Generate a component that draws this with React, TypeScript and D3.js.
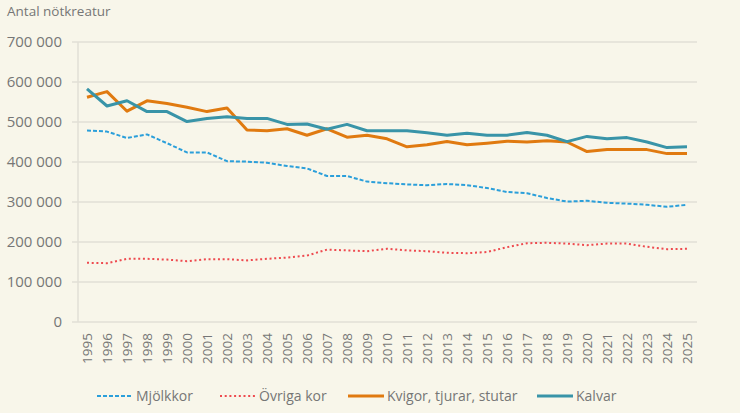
import * as d3 from 'd3';
import { useEffect, useRef } from 'react';

const years = d3.range(1995, 2026).map(String);

const mjolkkor = [
  479000, 476000, 460000, 469000, 447000, 424000, 424000, 402000, 401000, 398000,
  390000, 384000, 365000, 365000, 351000, 347000, 344000, 342000, 345000, 342000,
  335000, 325000, 322000, 310000, 301000, 303000, 298000, 296000, 293000, 288000,
  293000,
];

const ovrigaKor = [
  148000, 147000, 158000, 158000, 156000, 152000, 157000, 157000, 154000, 158000,
  161000, 166000, 181000, 179000, 177000, 183000, 179000, 177000, 173000, 172000,
  175000, 187000, 197000, 198000, 196000, 192000, 196000, 196000, 188000, 182000,
  183000,
];

const kvigor = [
  562000, 576000, 527000, 553000, 546000, 537000, 526000, 535000, 480000, 478000,
  483000, 467000, 483000, 462000, 467000, 458000, 438000, 443000, 451000, 443000,
  447000, 452000, 450000, 453000, 450000, 426000, 431000, 431000, 431000, 421000,
  421000,
];

const kalvar = [
  583000, 540000, 553000, 526000, 526000, 501000, 509000, 513000, 509000, 509000,
  494000, 495000, 482000, 494000, 478000, 478000, 478000, 473000, 467000, 472000,
  467000, 467000, 474000, 467000, 451000, 464000, 458000, 461000, 450000, 436000,
  438000,
];

const yTicks = [0, 100000, 200000, 300000, 400000, 500000, 600000, 700000];

const series = [
  { name: 'Mjölkkor', values: mjolkkor, color: '#2b9fda', width: 2, dash: '4,2' },
  { name: 'Övriga kor', values: ovrigaKor, color: '#ee4a4f', width: 2, dash: '2,2.7' },
  { name: 'Kvigor, tjurar, stutar', values: kvigor, color: '#e07a10', width: 3, dash: null },
  { name: 'Kalvar', values: kalvar, color: '#3994a8', width: 3, dash: null },
];

const legendX = [97, 220, 348, 537];

const W = 740;
const H = 413;
const FONT = '"Open Sans", sans-serif';
const TEXT = '#767676';

const sv = d3.formatLocale({
  decimal: ',',
  thousands: ' ',
  grouping: [3],
  currency: ['', ' kr'],
});
const fmt = sv.format(',d');

export default function App() {
  const svgRef = useRef<SVGSVGElement>(null);

  useEffect(() => {
    if (!svgRef.current) return;
    const svg = d3.select(svgRef.current);
    svg.selectAll('*').remove();

    const x = d3.scalePoint<string>().domain(years).range([77, 697]).padding(0.5);
    const y = d3.scaleLinear().domain([0, 700000]).range([322, 42]);

    svg.append('rect').attr('width', W).attr('height', H).attr('fill', '#f8f6ea');

    // title
    svg
      .append('text')
      .attr('x', 7)
      .attr('y', 16)
      .attr('font-family', FONT)
      .attr('font-size', 13.5)
      .attr('fill', TEXT)
      .text('Antal nötkreatur');

    // grid + y labels
    svg
      .append('g')
      .selectAll('line')
      .data(yTicks)
      .join('line')
      .attr('x1', 72)
      .attr('x2', 697)
      .attr('y1', (d) => y(d))
      .attr('y2', (d) => y(d))
      .attr('stroke', '#e2dfd6')
      .attr('stroke-width', 1.5);

    svg
      .append('line')
      .attr('x1', 78)
      .attr('x2', 78)
      .attr('y1', y(700000))
      .attr('y2', y(0))
      .attr('stroke', '#e2dfd6')
      .attr('stroke-width', 1.5);

    svg
      .append('g')
      .selectAll('text')
      .data(yTicks)
      .join('text')
      .attr('x', 62)
      .attr('y', (d) => y(d))
      .attr('dy', '0.35em')
      .attr('text-anchor', 'end')
      .attr('font-family', FONT)
      .attr('font-size', 15)
      .attr('fill', TEXT)
      .text((d) => fmt(d));

    // x labels
    svg
      .append('g')
      .selectAll('text')
      .data(years)
      .join('text')
      .attr('transform', (d) => `translate(${x(d)},333) rotate(-90)`)
      .attr('dy', '0.35em')
      .attr('text-anchor', 'end')
      .attr('font-family', FONT)
      .attr('font-size', 13.5)
      .attr('fill', TEXT)
      .text((d) => d);

    // lines
    const line = d3
      .line<number>()
      .x((_, i) => x(years[i]) ?? 0)
      .y((d) => y(d));

    series.forEach((s) => {
      svg
        .append('path')
        .datum(s.values)
        .attr('d', line)
        .attr('fill', 'none')
        .attr('stroke', s.color)
        .attr('stroke-width', s.width)
        .attr('stroke-linejoin', 'round')
        .attr('stroke-dasharray', s.dash);
    });

    // legend
    const lg = svg.append('g');
    series.forEach((s, i) => {
      const lx = legendX[i];
      lg.append('line')
        .attr('x1', lx)
        .attr('x2', lx + 36)
        .attr('y1', 396)
        .attr('y2', 396)
        .attr('stroke', s.color)
        .attr('stroke-width', s.width)
        .attr('stroke-dasharray', s.dash);
      lg.append('text')
        .attr('x', lx + 39)
        .attr('y', 396)
        .attr('dy', '0.35em')
        .attr('font-family', FONT)
        .attr('font-size', 14)
        .attr('fill', TEXT)
        .text(s.name);
    });
  }, []);

  return (
    <div style={{ position: 'fixed', left: 0, top: 0 }}>
      <svg ref={svgRef} width={W} height={H} style={{ display: 'block' }} />
    </div>
  );
}
